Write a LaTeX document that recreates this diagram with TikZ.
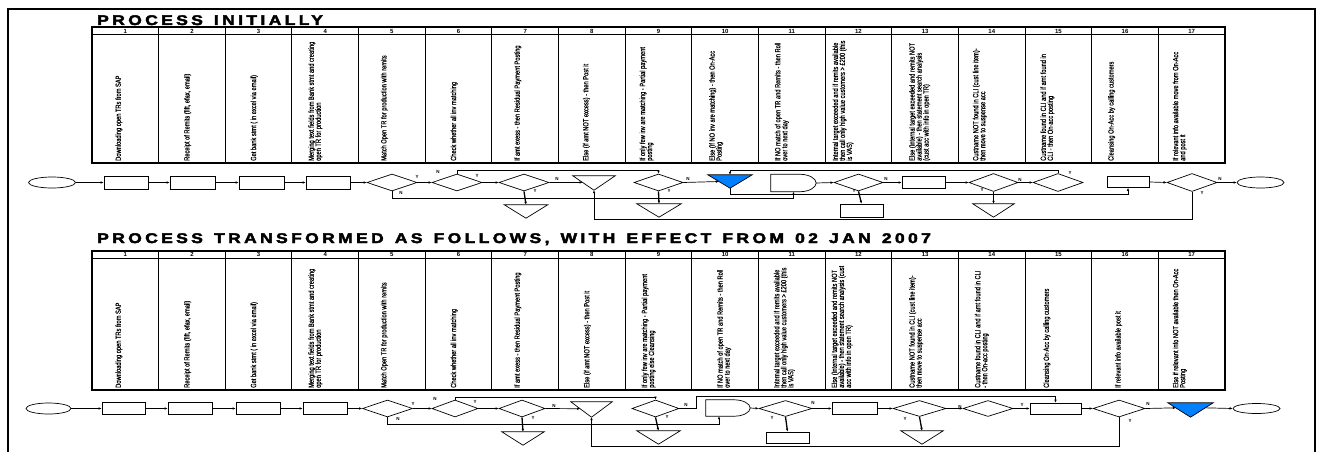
\documentclass[tikz,border=0pt]{standalone}
\usepackage{fontspec}
\setmainfont{Liberation Sans}
\newfontfamily\narrowfont[FakeStretch=0.76,FakeBold=0.5]{Liberation Sans}
\newfontfamily\titlefont[FakeStretch=1.25,LetterSpace=24,FakeBold=3,WordSpace=1.35]{Liberation Sans}
\usetikzlibrary{shapes.geometric,arrows.meta,calc}
\definecolor{accblue}{RGB}{0,128,255}
\tikzset{
  shp/.style={draw=black, line width=0.7pt},
  proc/.style={shp, rectangle, inner sep=0pt, minimum height=13pt},
  term/.style={shp, ellipse, inner sep=0pt, minimum width=47pt, minimum height=11pt},
  dec/.style={shp, diamond, inner sep=0pt, minimum width=50pt, minimum height=17pt},
  hbox/.style={rectangle, inner sep=0pt},
  arr/.style={draw=black, line width=0.7pt, -{Latex[length=3pt,width=2.6pt]}},
  arrthick/.style={arr, line width=1.3pt},
  yn/.style={font=\bfseries\fontsize{4.5}{5}\selectfont, inner sep=0pt},
  coltext/.style={rotate=90, anchor=north west, inner sep=0pt, align=left,
                  font=\narrowfont\fontsize{7.5}{7}\selectfont},
  hdr/.style={inner sep=0pt, font=\bfseries\fontsize{6}{6}\selectfont},
  ttl/.style={anchor=base west, inner sep=0pt, font=\titlefont\bfseries\fontsize{14}{15}\selectfont},
  tblout/.style={draw=black, line width=1.2pt},
  tblin/.style={draw=black, line width=1pt}
}
\newcommand\ctext[5]{\node[coltext] (#1) at ({92+(#2-1)*66.647+#3-2.8},#4) {#5};}
\begin{document}
\begin{tikzpicture}[x=1pt,y=-1pt]
\useasboundingbox (0,0) rectangle (1321,452);
% outer frame
\draw[line width=1.8pt] (8,452) -- (8,9) -- (1315,9) -- (1315,452);

% ================= TOP PANEL =================
\node[ttl] (title1) at (97,25) {PROCESS INITIALLY};
\draw[tblout] (92,27) rectangle (1225,163);
\draw[tblin] (92,35) -- (1225,35);
\foreach \i in {1,...,16} \draw[tblin] ({92+\i*66.647},27) -- ({92+\i*66.647},163);
\foreach \i in {1,...,17} \node[hdr] (ha\i) at ({92+(\i-0.5)*66.647},31.2) {\i};

\ctext{ta1}{1}{26}{161}{Downloading open TRs from SAP}
\ctext{ta2}{2}{28}{161}{Receipt of Remits (fift, efax, email)}
\ctext{ta3}{3}{28}{161}{Get bank stmt ( in excel via email)}
\ctext{ta4}{4}{19}{161}{Merging text fields from Bank stmt and creating\\open TR for production}
\ctext{ta5}{5}{25}{161}{Match Open TR for production with remits}
\ctext{ta6}{6}{28}{161}{Check whether all inv matching}
\ctext{ta7}{7}{25}{161}{If amt exess - then Residual Payment Posting}
\ctext{ta8}{8}{27}{161}{Else (if amt NOT excess) - then Post it}
\ctext{ta9}{9}{17}{161}{If only few inv are matching - Partial payment\\posting}
\ctext{ta10}{10}{20}{161}{Else (If NO inv are matching) - then On-Acc\\Posting}
\ctext{ta11}{11}{19}{161}{If NO match of open TR and Remits - then Roll\\over to next day}
\ctext{ta12}{12}{10}{161}{Internal target exceeded and if remits available\\then call only high value customers > \pounds 200 (this\\is VAS)}
\ctext{ta13}{13}{20}{161}{Else (Internal target exceeded and remits NOT\\available) - then statement search analysis\\(cust acc with info in open TR)}
\ctext{ta14}{14}{17}{161}{Custname NOT found in CLI (cust line item)-\\then move to suspense acc}
\ctext{ta15}{15}{18}{161}{Custname found in CLI and if amt found in\\CLI - then On-acc posting}
\ctext{ta16}{16}{19}{161}{Cleansing On-Acc by calling customers}
\ctext{ta17}{17}{17}{161}{If relevant info available move from On-Acc\\and post it}

% top flow nodes
\node[term] (e1) at (52,182.5) {};
\node[proc, minimum width=44pt] (r1) at (126,182.5) {};
\node[proc, minimum width=45pt] (r2) at (192.5,182.5) {};
\node[proc, minimum width=45pt] (r3) at (261.5,182.5) {};
\node[proc, minimum width=44pt] (r4) at (328,182.5) {};
\node[dec] (d1) at (392,182.5) {};
\node[dec] (d2) at (457,182.5) {};
\node[dec] (d3) at (524,182.5) {};
\node[hbox, minimum width=43pt, minimum height=13pt] (t7) at (526,211.5) {};
\node[hbox, minimum width=42pt, minimum height=14pt] (t8) at (594,183) {};
\node[dec, minimum width=49pt] (d4) at (658.5,182.5) {};
\node[hbox, minimum width=44pt, minimum height=13pt] (t9) at (659,210.5) {};
\node[hbox, minimum width=44pt, minimum height=13pt] (b10) at (730,181.5) {};
\node[hbox, minimum width=45pt, minimum height=17pt] (dl11) at (793.5,183) {};
\node[dec, minimum width=49pt] (d12) at (858.5,182.5) {};
\node[proc, minimum width=43pt] (r12) at (861.5,210.5) {};
\node[proc, minimum width=43pt, minimum height=12pt] (r13) at (923.5,182.5) {};
\node[dec, minimum width=49pt, minimum height=18pt] (d14) at (993.5,182.5) {};
\node[hbox, minimum width=41pt, minimum height=13pt] (t14) at (993.5,210.5) {};
\node[dec, minimum height=18pt] (d15) at (1058,182.5) {};
\node[proc, minimum width=42pt, minimum height=11pt] (r16) at (1128,182) {};
\node[dec, minimum height=18pt] (d17) at (1192,182.5) {};
\node[term] (e2) at (1260.5,182.5) {};

% triangle / delay outlines
\draw[shp] (t7.north west) -- (t7.north east) -- (t7.south) -- cycle;
\draw[shp] (t8.north west) -- (t8.north east) -- (t8.south) -- cycle;
\draw[shp] (t9.north west) -- (t9.north east) -- (t9.south) -- cycle;
\draw[shp] (t14.north west) -- (t14.north east) -- (t14.south) -- cycle;
\filldraw[shp, fill=accblue] (b10.north west) -- (b10.north east) -- (b10.south) -- cycle;
\draw[shp] (dl11.north west) -- ($(dl11.north east)+(-16,0)$)
  .. controls ($(dl11.north east)+(-7.2,0)$) and ($(dl11.east)+(0,-4.4)$) .. (dl11.east)
  .. controls ($(dl11.east)+(0,4.4)$) and ($(dl11.south east)+(-7.2,0)$) .. ($(dl11.south east)+(-16,0)$)
  -- (dl11.south west) -- cycle;

% lanes
\coordinate (L0) at (0,170);
\coordinate (L1) at (0,198.5);
\coordinate (L2) at (0,194);
\coordinate (L3) at (0,219);

% top connectors
\draw[arr] (e1.east) -- (r1.west);
\draw[arr] (r1.east) -- (r2.west);
\draw[arr] (r2.east) -- (r3.west);
\draw[arr] (r3.east) -- (r4.west);
\draw[arr] (r4.east) -- (d1.west);
\draw[arr] (d1.east) -- (d2.west);
\draw[arr] (d1.south) -- (d1.south |- L1) -| (dl11.south);
\draw[arr] (d2.east) -- (d3.west);
\draw[arr] (d2.north) -- (d2.north |- L0) -| (d4.north);
\draw[arrthick] (d3.south) -- (t7.north);
\draw[arr] (d3.east) -- ($(t8.north west)!0.46!(t8.south)$);
\draw[arrthick] (d4.south) -- (t9.north);
\draw[arr] (d4.east) -- ($(b10.north west)!0.5!(b10.south)$);
\draw[arr] (b10.south) -- (b10.south |- L2) -| (r16.south);
\draw[arr] (dl11.east) -- (d12.west);
\draw[arrthick] (d12.south) -- (r12.north);
\draw[arr] (d12.east) -- (r13.west);
\draw[arr] (r13.east) -- (d14.west);
\draw[arrthick] (d14.south) -- (t14.north);
\draw[arr] (d14.east) -- (d15.west);
\draw[arr] (d15.north) -- (d15.north |- L0) -| (b10.north);
\draw[arr] (r16.east) -- (d17.west);
\draw[arr] (d17.east) -- (e2.west);
\draw[arr] (d17.south) -- (d17.south |- L3) -| (t8.south);

% top labels
\node[yn] (ya1) at (417,177) {Y};
\node[yn] (na1) at (401,193) {N};
\node[yn] (na2) at (438,172) {N};
\node[yn] (ya2) at (477,176) {Y};
\node[yn] (ya3) at (535,191) {Y};
\node[yn] (na3) at (557,179) {N};
\node[yn] (ya4) at (669,191) {Y};
\node[yn] (na4) at (688,179) {N};
\node[yn] (ya12) at (854,191) {Y};
\node[yn] (na12) at (886,179) {N};
\node[yn] (ya14) at (982,190) {Y};
\node[yn] (na14) at (1020,180) {N};
\node[yn] (ya15) at (1070,173) {Y};
\node[yn] (na17) at (1220,179) {N};
\node[yn] (ya17) at (1202,193) {Y};

% ================= BOTTOM PANEL =================
\node[ttl] (title2) at (97,243) {PROCESS TRANSFORMED AS FOLLOWS, WITH EFFECT FROM 02 JAN 2007};
\draw[tblout] (92,251) rectangle (1225,390);
\draw[tblin] (92,258) -- (1225,258);
\foreach \i in {1,...,16} \draw[tblin] ({92+\i*66.647},251) -- ({92+\i*66.647},390);
\foreach \i in {1,...,17} \node[hdr] (hb\i) at ({92+(\i-0.5)*66.647},254.7) {\i};

\ctext{tb1}{1}{26}{388}{Downloading open TRs from SAP}
\ctext{tb2}{2}{28}{388}{Receipt of Remits (fift, efax, email)}
\ctext{tb3}{3}{28}{388}{Get bank stmt ( in excel via email)}
\ctext{tb4}{4}{19}{388}{Merging text fields from Bank stmt and creating\\open TR for production}
\ctext{tb5}{5}{25}{388}{Match Open TR for production with remits}
\ctext{tb6}{6}{28}{388}{Check whether all inv matching}
\ctext{tb7}{7}{25}{388}{If amt exess - then Residual Payment Posting}
\ctext{tb8}{8}{28}{388}{Else (if amt NOT excess) - then Post it}
\ctext{tb9}{9}{19}{388}{If only few inv are matching - Partial payment\\posting else Cleansing}
\ctext{tb10}{10}{28}{388}{If NO match of open TR and Remits - then Roll\\over to next day}
\ctext{tb11}{11}{18}{388}{Internal target exceeded and if remits available\\then call only high value customers > \pounds 200 (this\\is VAS)}
\ctext{tb12}{12}{9}{388}{Else (Internal target exceeded and remits NOT\\available) - then statement search analysis (cust\\acc with info in open TR)}
\ctext{tb13}{13}{20}{388}{Custname NOT found in CLI (cust line item)-\\then move to suspense acc}
\ctext{tb14}{14}{19}{388}{Custname found in CLI and if amt found in CLI\\- then On-acc posting}
\ctext{tb15}{15}{21}{388}{Cleansing On-Acc by calling customers}
\ctext{tb16}{16}{26}{388}{If relevant info available post it}
\ctext{tb17}{17}{17}{388}{Else if relevant info NOT available then On-Acc\\Posting}

% bottom flow nodes
\node[term, minimum width=45pt] (E1) at (48.5,408.5) {};
\node[proc, minimum width=43pt, minimum height=12pt] (R1) at (123.5,408.5) {};
\node[proc, minimum width=44pt, minimum height=12pt] (R2) at (190,408.5) {};
\node[proc, minimum width=44pt, minimum height=12pt] (R3) at (258,408.5) {};
\node[proc, minimum width=44pt, minimum height=12pt] (R4) at (325,408.5) {};
\node[dec] (D1) at (387.5,408.5) {};
\node[dec, minimum width=46pt] (D2) at (455,408.5) {};
\node[dec, minimum width=46pt] (D3) at (522,408.5) {};
\node[hbox, minimum width=42pt, minimum height=13pt] (T7) at (523,438.5) {};
\node[hbox, minimum width=41pt, minimum height=15pt] (T8) at (591.5,409.5) {};
\node[dec, minimum width=47pt] (D4) at (655.5,408.5) {};
\node[hbox, minimum width=43pt, minimum height=13pt] (T9) at (658.5,437.5) {};
\node[hbox, minimum width=44pt, minimum height=16pt] (DL10) at (728,408) {};
\node[dec, minimum width=53pt, minimum height=16pt] (D11) at (785.5,408.5) {};
\node[proc, minimum width=43pt, minimum height=11pt] (R11) at (787.5,437.5) {};
\node[proc, minimum width=45pt, minimum height=12pt] (R12) at (854.5,408.5) {};
\node[dec, minimum width=53pt, minimum height=16pt] (D13) at (919.5,408.5) {};
\node[hbox, minimum width=42pt, minimum height=13pt] (T13) at (922,437.5) {};
\node[dec, minimum height=16pt] (D14) at (988,408.5) {};
\node[proc, minimum width=51pt, minimum height=11pt] (R15) at (1055.5,408.5) {};
\node[dec, minimum width=52pt] (D16) at (1119,408.5) {};
\node[hbox, minimum width=45pt, minimum height=14pt] (B17) at (1190.5,410) {};
\node[term, minimum height=10pt] (E2) at (1256.5,408.5) {};

\draw[shp] (T7.north west) -- (T7.north east) -- (T7.south) -- cycle;
\draw[shp] (T8.north west) -- (T8.north east) -- (T8.south) -- cycle;
\draw[shp] (T9.north west) -- (T9.north east) -- (T9.south) -- cycle;
\draw[shp] (T13.north west) -- (T13.north east) -- (T13.south) -- cycle;
\filldraw[shp, fill=accblue] (B17.north west) -- (B17.north east) -- (B17.south) -- cycle;
\draw[shp] (DL10.north west) -- ($(DL10.north east)+(-16,0)$)
  .. controls ($(DL10.north east)+(-7.2,0)$) and ($(DL10.east)+(0,-4.4)$) .. (DL10.east)
  .. controls ($(DL10.east)+(0,4.4)$) and ($(DL10.south east)+(-7.2,0)$) .. ($(DL10.south east)+(-16,0)$)
  -- (DL10.south west) -- cycle;

\coordinate (M0) at (0,397);
\coordinate (M0b) at (0,396);
\coordinate (M1) at (0,424);
\coordinate (M2) at (0,446);

\draw[arr] (E1.east) -- (R1.west);
\draw[arr] (R1.east) -- (R2.west);
\draw[arr] (R2.east) -- (R3.west);
\draw[arr] (R3.east) -- (R4.west);
\draw[arr] (R4.east) -- (D1.west);
\draw[arr] (D1.east) -- (D2.west);
\draw[arr] (D1.south) -- (D1.south |- M1) -| ([xshift=-9pt]DL10.south);
\draw[arr] (D2.east) -- (D3.west);
\draw[arr] (D2.north) -- (D2.north |- M0) -| (D4.north);
\draw[arrthick] (D3.south) -- (T7.north);
\draw[arr] (D3.east) -- ($(T8.north west)!0.45!(T8.south)$);
\draw[arrthick] (D4.south) -- (T9.north);
\draw[arr] (D4.east) -- ([xshift=17pt]D4.east) |- (R15.north |- M0b) -- (R15.north);
\draw[arr] (DL10.east) -- (D11.west);
\draw[arrthick] (D11.south) -- (R11.north);
\draw[arr] (D11.east) -- (R12.west);
\draw[arr] (R12.east) -- (D13.west);
\draw[arrthick] (D13.south) -- (T13.north);
\draw[arr] (D13.east) -- (D14.west);
\draw[arr] (D14.east) -- (R15.west);
\draw[arr] (R15.east) -- (D16.west);
\draw[arr] (D16.south) -- (D16.south |- M2) -| (T8.south);
\draw[arr] (D16.east) -- ($(B17.north west)!0.35!(B17.south)$);
\draw[arr] ($(B17.north east)!0.35!(B17.south)$) -- (E2.west);

\node[yn] (yb1) at (413,404) {Y};
\node[yn] (nb1) at (398,419) {N};
\node[yn] (nb2) at (435,399) {N};
\node[yn] (yb2) at (475,402) {Y};
\node[yn] (yb3) at (533,418) {Y};
\node[yn] (nb3) at (554,406) {N};
\node[yn] (nb4) at (686,405) {N};
\node[yn] (yb4) at (667,417) {Y};
\node[yn] (nb11) at (813,403) {N};
\node[yn] (yb11) at (772,418) {Y};
\node[yn] (yb13) at (905,419) {Y};
\node[yn] (nb13) at (960,407) {N};
\node[yn] (yb14) at (1022,405) {Y};
\node[yn] (nb16) at (1148,404) {N};
\node[yn] (yb16) at (1130,421) {Y};
\end{tikzpicture}
\end{document}
